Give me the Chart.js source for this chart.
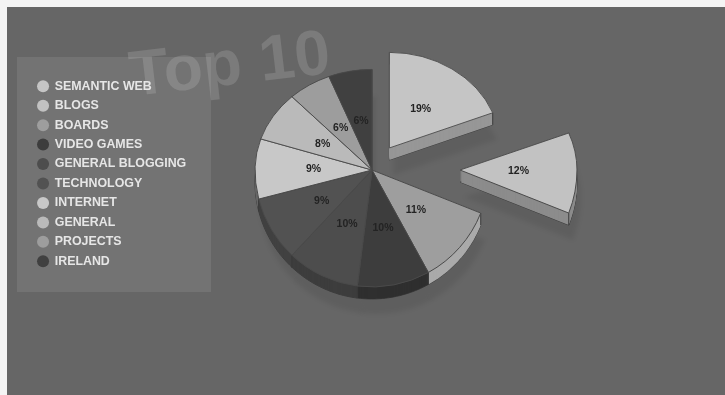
<!DOCTYPE html>
<html>
<head>
<meta charset="utf-8">
<title>Top 10</title>
<style>
  html, body { margin: 0; padding: 0; background: #f4f4f4; }
  #wrap { width: 725px; height: 395px; position: relative; }
</style>
<script src="https://cdn.jsdelivr.net/npm/chart.js@4"></script>
</head>
<body>
<div id="wrap"><canvas id="chart"></canvas></div>
<script>
// Topic shares, in percent
const categories = ['SEMANTIC WEB', 'BLOGS', 'BOARDS', 'VIDEO GAMES', 'GENERAL BLOGGING',
                    'TECHNOLOGY', 'INTERNET', 'GENERAL', 'PROJECTS', 'IRELAND'];
const shares = [19, 12, 11, 10, 10, 9, 9, 8, 6, 6];
const titleText = 'Top 10';

// Slice appearance
const topColors = ['#c5c5c5', '#c2c2c2', '#9e9e9e', '#3d3d3d', '#4d4d4d',
                   '#525252', '#c8c8c8', '#bababa', '#9d9d9d', '#404040'];
const sideColors = ['#979797', '#8c8c8c', '#aaaaaa', '#2f2f2f', '#3d3d3d',
                    '#414141', '#666666', '#666666', '#666666', '#2c2c2c'];
const explodeBy = [31, 88, 0, 0, 0, 0, 0, 0, 0, 0];
const sliceScale = [0.95, 1, 1, 1, 1, 1, 1, 1, 1, 1];

const TILT = 0.86;      // vertical squash of the far half of the pie
const DEPTH = 12;       // height of the extruded rim

// Projects a point of the flat pie onto the tilted one
function project(cy, x, y) {
  return [x, y < cy ? cy + (y - cy) * TILT : y];
}

// Outline of one slice in projected coordinates
function sliceOutline(arc, index) {
  const mid = (arc.startAngle + arc.endAngle) / 2;
  const dx = Math.cos(mid) * explodeBy[index];
  const dy = Math.sin(mid) * explodeBy[index];
  const ax = arc.x + dx;
  const ay = arc.y + dy;
  const r = arc.outerRadius * sliceScale[index];
  const pts = [project(arc.y, ax, ay)];
  const steps = Math.max(8, Math.ceil((arc.endAngle - arc.startAngle) * 40));
  for (let i = 0; i <= steps; i++) {
    const a = arc.startAngle + (arc.endAngle - arc.startAngle) * i / steps;
    pts.push(project(arc.y, ax + Math.cos(a) * r, ay + Math.sin(a) * r));
  }
  return { pts, ax, ay, mid, cy: arc.y, r, k: sliceScale[index], x: arc.x, y: arc.y };
}

function tracePolygon(ctx, pts, dy) {
  ctx.beginPath();
  pts.forEach((q, i) => i ? ctx.lineTo(q[0], q[1] + dy) : ctx.moveTo(q[0], q[1] + dy));
  ctx.closePath();
}

// Backdrop, slanted heading and the legend panel
const backdrop = {
  id: 'backdrop',
  beforeDraw(chart) {
    const ctx = chart.ctx;
    ctx.save();
    ctx.fillStyle = '#666666';
    ctx.fillRect(7, 7, chart.width - 7, chart.height - 7);
    ctx.save();
    ctx.translate(132, 96);
    ctx.rotate(-6.6 * Math.PI / 180);
    ctx.font = 'bold 64px "Liberation Sans", Arial, sans-serif';
    ctx.fillStyle = '#7b7b7b';
    ctx.fillText(titleText, 0, 0);
    ctx.restore();
    ctx.fillStyle = 'rgba(255,255,255,0.09)';
    ctx.fillRect(17, 57, 194, 235);
    ctx.restore();
  }
};

// Places the legend over the panel
const legendPlacement = {
  id: 'legendPlacement',
  afterLayout(chart) {
    chart.legend.left = 30.5;
    chart.legend.top = 73;
  }
};

// Draws the pie as a tilted solid with its shadow, rim, faces and percentages
const solidPie = {
  id: 'solidPie',
  beforeDatasetsDraw(chart) {
    const ctx = chart.ctx;
    const arcs = chart.getDatasetMeta(0).data;
    const outlines = arcs.map(sliceOutline);
    const cy = outlines[0].cy;

    // soft cast shadow
    ctx.save();
    ctx.filter = 'blur(2px)';
    ctx.fillStyle = 'rgba(0,0,0,0.07)';
    outlines.forEach(o => {
      ctx.save();
      ctx.translate(4, 0);
      tracePolygon(ctx, o.pts, 27);
      ctx.fill();
      ctx.restore();
    });
    ctx.restore();

    // extruded rim, back to front
    const order = outlines.map((o, i) => i).sort((a, b) => Math.sin(outlines[a].mid) - Math.sin(outlines[b].mid));
    order.forEach(i => {
      const pts = outlines[i].pts;
      ctx.save();
      ctx.strokeStyle = '#3c3c3c';
      ctx.lineWidth = 1;
      tracePolygon(ctx, pts, DEPTH);
      ctx.stroke();
      ctx.fillStyle = sideColors[i];
      for (let d = DEPTH; d >= 0; d--) {
        tracePolygon(ctx, pts, d);
        ctx.fill();
      }
      // vertical seams at both ends of the rim
      [pts[1], pts[pts.length - 1]].forEach(q => {
        ctx.beginPath();
        ctx.moveTo(q[0], q[1]);
        ctx.lineTo(q[0], q[1] + DEPTH);
        ctx.stroke();
      });
      ctx.restore();
    });

    // faces: far half squashed, near half as is
    const drawFaces = () => arcs.forEach((a, i) => {
      const o = outlines[i];
      ctx.save();
      ctx.translate(o.ax, o.ay);
      ctx.scale(o.k, o.k);
      ctx.translate(-o.x, -o.y);
      a.draw(ctx);
      ctx.restore();
    });
    ctx.save();
    ctx.beginPath();
    ctx.rect(0, 0, chart.width, cy);
    ctx.clip();
    ctx.translate(0, cy);
    ctx.scale(1, TILT);
    ctx.translate(0, -cy);
    drawFaces();
    ctx.restore();

    ctx.save();
    ctx.beginPath();
    ctx.rect(0, cy, chart.width, chart.height - cy);
    ctx.clip();
    drawFaces();
    ctx.restore();

    // percentages
    ctx.save();
    ctx.font = 'bold 10.5px "Liberation Sans", Arial, sans-serif';
    ctx.fillStyle = '#232323';
    ctx.textAlign = 'center';
    ctx.textBaseline = 'middle';
    outlines.forEach((o, i) => {
      const lx = o.ax + Math.cos(o.mid) * o.r * 0.5;
      const ly = o.ay + Math.sin(o.mid) * o.r * 0.5;
      const q = project(cy, lx, ly);
      ctx.fillText(shares[i] + '%', q[0], q[1] + 1);
    });
    ctx.restore();
    return false;
  }
};

new Chart(document.getElementById('chart'), {
  type: 'pie',
  data: {
    labels: categories,
    datasets: [{
      data: shares,
      backgroundColor: topColors,
      borderColor: '#4a4a4a',
      borderWidth: 1
    }]
  },
  options: {
    responsive: true,
    maintainAspectRatio: false,
    animation: false,
    events: [],
    radius: '69%',
    layout: { padding: { left: 19, bottom: 55 } },
    plugins: {
      tooltip: { enabled: false },
      title: { display: false },
      legend: {
        position: 'chartArea',
        align: 'start',
        labels: {
          usePointStyle: true,
          boxWidth: 11,
          boxHeight: 8.5,
          padding: 7.05,
          color: '#e6e6e6',
          font: { family: '"Liberation Sans", Arial, sans-serif', size: 12.4, weight: 'bold' },
          generateLabels(chart) {
            return Chart.overrides.pie.plugins.legend.labels.generateLabels(chart)
              .map(item => ({ ...item, lineWidth: 0 }));
          }
        }
      }
    }
  },
  plugins: [backdrop, legendPlacement, solidPie]
});
</script>
</body>
</html>
